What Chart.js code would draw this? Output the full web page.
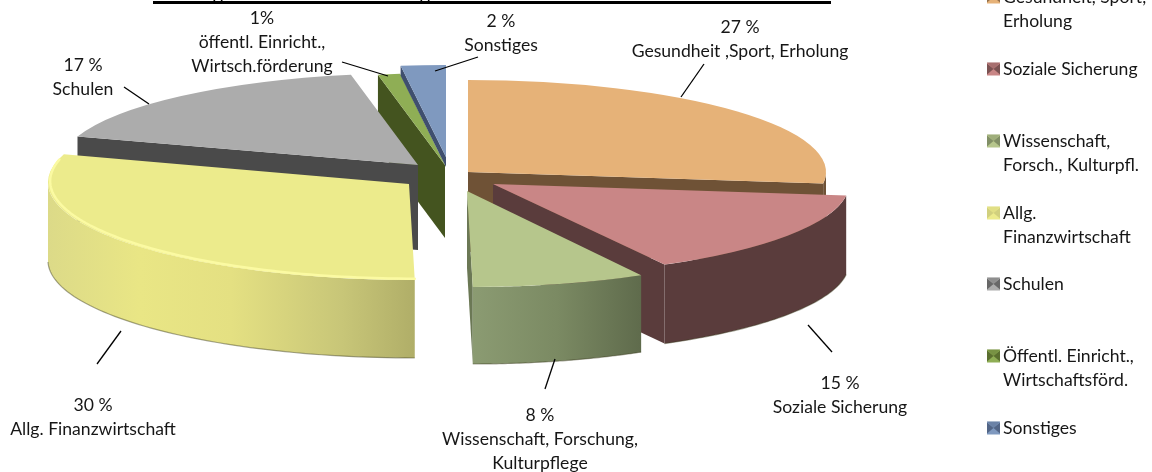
<!DOCTYPE html>
<html lang="de"><head><meta charset="utf-8">
<style>html,body{margin:0;padding:0;background:#fff}#wrap{width:1152px;height:472px;position:relative;overflow:hidden}</style>
<script src="https://cdn.jsdelivr.net/npm/chart.js@4/dist/chart.umd.min.js"></script>
</head><body><div id="wrap"><canvas id="c" width="1152" height="472"></canvas></div>
<script>
const categories = ["Gesundheit, Sport, Erholung","Soziale Sicherung","Wissenschaft, Forschung, Kulturpflege","Allg. Finanzwirtschaft","Schulen","öffentl. Einricht., Wirtsch.förderung","Sonstiges"];
const values = [27,15,8,30,17,1,2];
const topColors = ["#e6b278","#c98686","#b6c68c","#eceb8c","#acacac","#8fae55","#7f99bf"];
const sideColors = ["#6f5236","#5a3c3c","#6b7855","#c6c478","#4a4a4a","#44541f","#3f4f6e"];
const wallStops = [
  [["#6f5236",0],["#6f5236",1]],
  [["#5a3c3c",0],["#5a3c3c",1]],
  [["#8b9b72",0],["#7b8a63",.5],["#5f6b4c",1]],
  [["#dcda88",0],["#e9e685",.25],["#e4e082",.5],["#c8c678",.8],["#b0ae68",1]],
  [["#4a4a4a",0],["#4a4a4a",1]],
  [["#44541f",0],["#44541f",1]],
  [["#3f4f6e",0],["#3f4f6e",1]]
];
const explodeX = [22,47,21,-37,-28,-1,0];
const explodeY = [-3,9,16,9,-10,-10,-18];
const radX = [358,356,351,361,358,358,362];
const radY = [92,92,96,96,92,92,92];
const shear = [0,0,.06,.06,0,0,0];
const depth = [80,79,77,78,85,73,10];
const drawOrder = [5,6,4,3,0,1,2];

const sliceLabels = [
 {lines:["27 %","Gesundheit ,Sport, Erholung"],x:740,y:27,lead:[[704,64],[681,97]]},
 {lines:["15 %","Soziale Sicherung"],x:840,y:383,lead:[[808,325],[832,352]]},
 {lines:["8 %","Wissenschaft, Forschung,","Kulturpflege"],x:540,y:415,lead:[[555,359],[545,389]]},
 {lines:["30 %","Allg. Finanzwirtschaft"],x:93,y:405,lead:[[121,331],[97,364]]},
 {lines:["17 %","Schulen"],x:83,y:65,lead:[[124,87],[149,104]]},
 {lines:["1%","öffentl. Einricht.,","Wirtsch.förderung"],x:262,y:18,lead:[[342,62],[388,76]]},
 {lines:["2 %","Sonstiges"],x:501,y:21,lead:[[478,57],[435,71]]}
];
const legendEntries = [
 {lines:["Gesundheit, Sport,","Erholung"],y:-3,c:0},
 {lines:["Soziale Sicherung"],y:69,c:1},
 {lines:["Wissenschaft,","Forsch., Kulturpfl."],y:141,c:2},
 {lines:["Allg.","Finanzwirtschaft"],y:213,c:3},
 {lines:["Schulen"],y:284,c:4},
 {lines:["Öffentl. Einricht.,","Wirtschaftsförd."],y:356,c:5},
 {lines:["Sonstiges"],y:428,c:6}
];
const FONT = 'Lato, "Open Sans", sans-serif';

const pie3d = {
  id:'pie3d',
  beforeDatasetsDraw(chart){
    const ctx = chart.ctx, arcs = chart.getDatasetMeta(0).data;
    for(const i of drawOrder){
      const arc = arcs[i];
      const r = arc.outerRadius, ax = radX[i], ay = radY[i], sh = shear[i], d = depth[i];
      const ox = arc.x+explodeX[i], oy = arc.y+explodeY[i];
      const P = t => {
        const u=Math.cos(t)*ax, v=Math.sin(t)*ay;
        return [ox+u+sh*v, oy+v];
      };
      const s=arc.startAngle, e=arc.endAngle, mid=(s+e)/2;
      const M=P(mid); const mx=ox+(M[0]-ox)*.5, my=oy+(M[1]-oy)*.5;
      for(const t of [s,e]){
        const E=P(t);
        const dx=E[0]-ox; if(Math.abs(dx)<1e-6) continue;
        const ly=oy+(E[1]-oy)*(mx-ox)/dx;
        if(my<ly){
          ctx.fillStyle=sideColors[i];
          ctx.beginPath();ctx.moveTo(ox,oy);ctx.lineTo(E[0],E[1]);ctx.lineTo(E[0],E[1]+d);ctx.lineTo(ox,oy+d);ctx.closePath();ctx.fill();
        }
      }
      const ranges=[];
      for(let k=-1;k<=1;k++){
        const a=Math.max(s,k*2*Math.PI), b=Math.min(e,k*2*Math.PI+Math.PI);
        if(b>a) ranges.push([a,b]);
      }
      for(const [a,b] of ranges){
        const A=P(a),B=P(b);
        const g=ctx.createLinearGradient(Math.min(A[0],B[0]),0,Math.max(A[0],B[0]),0);
        for(const [col,stop] of wallStops[i]) g.addColorStop(stop,col);
        ctx.fillStyle=g;
        ctx.beginPath();
        const n=60;
        for(let j=0;j<=n;j++){const p=P(a+(b-a)*j/n);j?ctx.lineTo(p[0],p[1]):ctx.moveTo(p[0],p[1]);}
        for(let j=n;j>=0;j--){const p=P(a+(b-a)*j/n);ctx.lineTo(p[0],p[1]+d);}
        ctx.closePath();ctx.fill();
        ctx.strokeStyle='rgba(60,60,30,.45)';ctx.lineWidth=1.2;
        ctx.beginPath();
        for(let j=0;j<=n;j++){const p=P(a+(b-a)*j/n);j?ctx.lineTo(p[0],p[1]+d):ctx.moveTo(p[0],p[1]+d);}
        ctx.stroke();
      }
      ctx.save();
      ctx.transform(ax/r,0,sh*ay/r,ay/r,ox,oy);
      ctx.translate(-arc.x,-arc.y);
      arc.draw(ctx);
      ctx.restore();
      if(i===3){
        ctx.strokeStyle='#fbfaa2';ctx.lineWidth=2.5;ctx.lineCap='round';
        ctx.beginPath();
        const n=80, end=e-0.07;
        for(let j=0;j<=n;j++){const p=P(s+(end-s)*j/n);const x=p[0]+(ox-p[0])*.006,y=p[1]-1.3;j?ctx.lineTo(x,y):ctx.moveTo(x,y);}
        ctx.stroke();
        ctx.lineCap='butt';
      }
    }
    return false;
  },
  afterDraw(chart){
    const ctx=chart.ctx;
    ctx.fillStyle='#000';ctx.fillRect(153,1,678,3);
    ctx.strokeStyle='#000';ctx.lineWidth=1.5;
    for(const bx of [218,425]){ctx.beginPath();ctx.arc(bx,-1,4,0,Math.PI);ctx.stroke();}
    ctx.textBaseline='middle';ctx.fillStyle='#161616';
    ctx.font='17.6px '+FONT;ctx.textAlign='center';
    for(const l of sliceLabels){
      l.lines.forEach((t,j)=>ctx.fillText(t,l.x,l.y+j*24));
      ctx.strokeStyle='#000';ctx.lineWidth=1.3;
      ctx.beginPath();ctx.moveTo(l.lead[0][0],l.lead[0][1]);ctx.lineTo(l.lead[1][0],l.lead[1][1]);ctx.stroke();
    }
    ctx.textAlign='left';
    for(const L of legendEntries){
      const x=987,y=L.y-6.5,s=13,c=topColors[L.c],dk=sideColors[L.c];
      ctx.fillStyle=c;ctx.fillRect(x,y,s,s);
      ctx.globalAlpha=.7;ctx.fillStyle=dk;
      ctx.beginPath();ctx.moveTo(x,y+1);ctx.lineTo(x+s/2,y+s/2);ctx.lineTo(x,y+s-1);ctx.closePath();ctx.fill();
      ctx.beginPath();ctx.moveTo(x+s,y+1);ctx.lineTo(x+s/2,y+s/2);ctx.lineTo(x+s,y+s-1);ctx.closePath();ctx.fill();
      ctx.globalAlpha=.3;
      ctx.beginPath();ctx.moveTo(x,y);ctx.lineTo(x+s,y);ctx.lineTo(x+s/2,y+s/2);ctx.closePath();ctx.fill();
      ctx.globalAlpha=1;
      ctx.fillStyle='#161616';
      L.lines.forEach((t,j)=>ctx.fillText(t,1003,L.y+j*24));
    }
  }
};
new Chart(document.getElementById('c'),{
  type:'pie',
  data:{labels:categories,datasets:[{data:values,backgroundColor:topColors,borderWidth:0}]},
  options:{
    responsive:false,animation:false,
    layout:{padding:{left:296,right:556,top:25,bottom:147}},
    plugins:{legend:{display:false},tooltip:{enabled:false}}
  },
  plugins:[pie3d]
});
</script></body></html>
